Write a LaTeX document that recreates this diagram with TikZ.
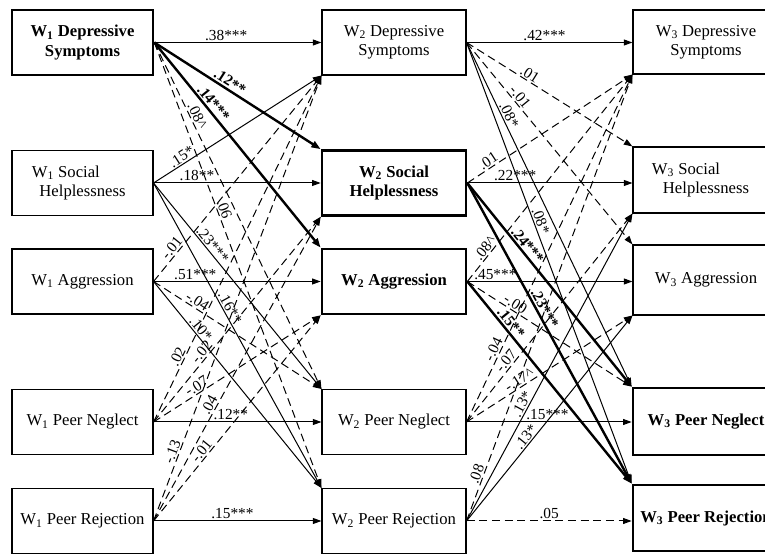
\documentclass[tikz,border=0pt]{standalone}
\usepackage{fontspec}
\setmainfont{Liberation Serif}
\usetikzlibrary{arrows.meta}

\tikzset{
  box/.style={draw,line width=0.8pt,minimum height=48.75pt,align=center,inner sep=1pt,
    font=\fontsize{12.5}{14.5}\selectfont},
  keybox/.style={box,line width=2pt,font=\bfseries\fontsize{12.5}{14.5}\selectfont},
  lag/.style={line width=0.75pt,-{Triangle[length=6.5pt,width=4.5pt]}},
  nslag/.style={lag,dash pattern=on 6pt off 3.5pt},
  keylag/.style={line width=1.8pt,-{Triangle[length=7pt,width=5pt]}},
  coef/.style={sloped,above,inner sep=1pt,font=\fontsize{11.5}{12}\selectfont},
  keycoef/.style={coef,font=\bfseries\fontsize{11.5}{12}\selectfont},
}

\begin{document}
\begin{tikzpicture}[x=0.75pt,y=-0.75pt]
  \useasboundingbox (0,0) rectangle (765,555);
  \fill[white] (0,0) rectangle (765,555);

  % wave 1
  \node[keybox,minimum width=105.75pt] (w1dep) at (82.5,42.5) {W\textsubscript{1} Depressive\\Symptoms};
  \node[box,minimum width=105.75pt] (w1soc) at (82.5,183) {W\textsubscript{1} Social\hspace*{25pt}\\Helplessness};
  \node[box,minimum width=105.75pt] (w1agg) at (82.5,281.5) {W\textsubscript{1} Aggression};
  \node[box,minimum width=105.75pt] (w1neg) at (82.5,422) {W\textsubscript{1} Peer Neglect};
  \node[box,minimum width=105.75pt] (w1rej) at (82.5,521) {W\textsubscript{1} Peer Rejection};

  % wave 2
  \node[box,minimum width=108pt] (w2dep) at (394,42.5) {W\textsubscript{2} Depressive\\Symptoms};
  \node[keybox,minimum width=108pt] (w2soc) at (394,183) {W\textsubscript{2} Social\\Helplessness};
  \node[keybox,minimum width=108pt] (w2agg) at (394,281.5) {W\textsubscript{2} Aggression};
  \node[box,minimum width=108pt] (w2neg) at (394,422) {W\textsubscript{2} Peer Neglect};
  \node[box,minimum width=108pt] (w2rej) at (394,521) {W\textsubscript{2} Peer Rejection};

  % wave 3
  \node[box,minimum width=109.5pt,minimum height=48pt] (w3dep) at (706,42) {W\textsubscript{3} Depressive\\Symptoms};
  \node[box,minimum width=109.5pt,minimum height=49.5pt] (w3soc) at (706,180) {W\textsubscript{3} Social\hspace*{30pt}\\Helplessness};
  \node[box,minimum width=109.5pt,minimum height=52.5pt] (w3agg) at (706,280) {W\textsubscript{3} Aggression};
  \node[keybox,minimum width=109.5pt,minimum height=50.25pt] (w3neg) at (706,421.5) {W\textsubscript{3} Peer Neglect};
  \node[keybox,minimum width=109.5pt,minimum height=49.5pt] (w3rej) at (706,518) {W\textsubscript{3} Peer Rejection};

  \coordinate (in3dep) at (w3dep.west |- w2dep.east);
  \coordinate (in3soc) at (w3soc.west |- w2soc.east);
  \coordinate (in3agg) at (w3agg.west |- w2agg.east);
  \coordinate (in3neg) at (w3neg.west |- w2neg.east);
  \coordinate (in3rej) at (w3rej.west |- w2rej.east);

  % W1 -> W2
  \foreach \src/\dst/\p/\lab in {
      w1dep.east/w2dep.west/0.43/{.38***},
      w1soc.east/w2dep.south west/0.19/{.15*},
      w1soc.east/w2soc.west/0.26/{.18**},
      w1soc.east/w2neg.north west/0.32/{.23***},
      w1soc.east/w2rej.north west/0.42/{.16**},
      w1agg.east/w2agg.west/0.25/{.51***},
      w1agg.east/w2rej.north west/0.25/{.10*},
      w1neg.east/w2neg.west/0.46/{.12**},
      w1rej.east/w2rej.west/0.47/{.15***}}
    \draw[lag] (\src) -- (\dst) node[coef,pos=\p] {\lab};
  \foreach \src/\dst/\p/\lab in {
      w1dep.east/w2neg.north west/0.22/{.08\textasciicircum},
      w1dep.east/w2rej.north west/0.38/{.06},
      w1agg.east/w2dep.south west/0.14/{-.01},
      w1agg.east/w2neg.north west/0.24/{-.04},
      w1neg.east/w2dep.south west/0.18/{.02},
      w1neg.east/w2soc.south west/0.32/{-.02},
      w1neg.east/w2agg.south west/0.28/{-.07},
      w1rej.east/w2dep.south west/0.15/{-.13},
      w1rej.east/w2soc.south west/0.37/{.04},
      w1rej.east/w2agg.south west/0.32/{-.01}}
    \draw[nslag] (\src) -- (\dst) node[coef,pos=\p] {\lab};
  \draw[keylag] (w1dep.east) -- (w2soc.north west) node[keycoef,pos=0.43] {.12**};
  \draw[keylag] (w1dep.east) -- (w2agg.north west) node[keycoef,pos=0.32] {.14***};

  % W2 -> W3
  \foreach \src/\dst/\p/\lab in {
      w2dep.east/in3dep/0.47/{.42***},
      w2dep.east/w3neg.north west/0.22/{.08*},
      w2dep.east/w3rej.north west/0.41/{.08*},
      w2soc.east/in3soc/0.29/{.22***},
      w2agg.east/in3agg/0.17/{.45***},
      w2neg.east/in3neg/0.49/{.15***},
      w2rej.east/w3soc.south west/0.37/{.13*},
      w2rej.east/w3agg.south west/0.39/{.13*}}
    \draw[lag] (\src) -- (\dst) node[coef,pos=\p] {\lab};
  \foreach \src/\dst/\p/\lab in {
      w2dep.east/w3soc.north west/0.36/{.01},
      w2dep.east/w3agg.north west/0.29/{-.01},
      w2soc.east/w3dep.south west/0.15/{.01},
      w2agg.east/w3dep.south west/0.14/{.08\textasciicircum},
      w2agg.east/w3neg.north west/0.27/{-.00},
      w2neg.east/w3dep.south west/0.20/{-.04},
      w2neg.east/w3soc.south west/0.27/{-.07},
      w2neg.east/w3agg.south west/0.34/{-.17\textasciicircum},
      w2rej.east/w3dep.south west/0.10/{.08},
      w2rej.east/in3rej/0.50/{.05}}
    \draw[nslag] (\src) -- (\dst) node[coef,pos=\p] {\lab};
  \draw[keylag] (w2soc.east) -- (w3neg.north west) node[keycoef,pos=0.33] {.24***};
  \draw[keylag] (w2soc.east) -- (w3rej.north west) node[keycoef,pos=0.43] {.23***};
  \draw[keylag] (w2agg.east) -- (w3rej.north west) node[keycoef,pos=0.23] {.15**};
\end{tikzpicture}
\end{document}
